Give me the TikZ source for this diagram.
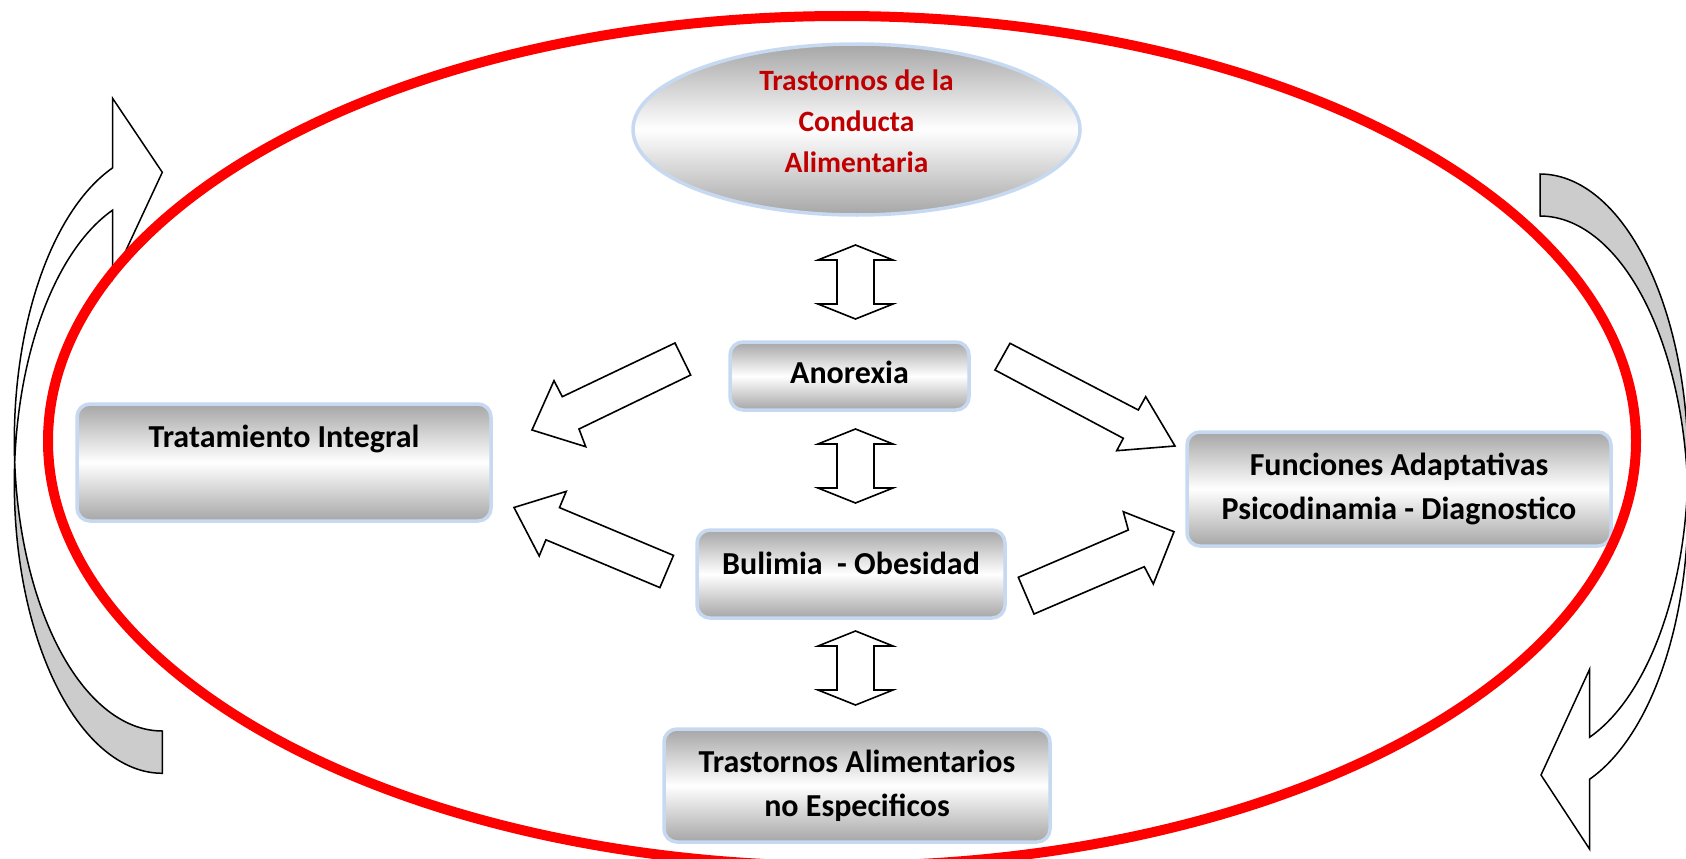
\documentclass[tikz,border=0pt]{standalone}
\usepackage{fontspec}
\setmainfont{Carlito}
\usetikzlibrary{shapes.geometric}
\definecolor{boxborder}{RGB}{198,217,241}
\definecolor{titlered}{RGB}{192,0,0}
\definecolor{shadegray}{RGB}{166,166,166}
\definecolor{backgray}{RGB}{204,204,204}
\begin{document}
\begin{tikzpicture}[x=1pt,y=-1pt,
  boxfill/.style={draw=boxborder, line width=3.5pt, top color=shadegray, bottom color=shadegray, middle color=white},
  box/.style={boxfill, rectangle, rounded corners=13pt, align=center, inner sep=0pt,
     font=\fontsize{32}{44}\selectfont\bfseries},
  titleell/.style={boxfill, ellipse, align=center, inner sep=0pt, text=titlered,
     font=\fontsize{29.5}{41}\selectfont\bfseries},
  blockarrow/.style={draw=black, fill=white, line width=1.6pt, line join=miter},
  curvefront/.style={draw=black, fill=white, line width=1.5pt},
  curveback/.style={draw=black, fill=backgray, line width=1.5pt},
  ring/.style={draw=red, line width=10pt}]
\useasboundingbox (0,0) rectangle (1686,859);
\clip (0,0) rectangle (1686,859);
\fill[white] (0,0) rectangle (1686,859);

% nodes
\node[titleell, minimum width=447pt, minimum height=171pt, text depth=16pt] (tca) at (856.5,129.5) {Trastornos de la\\Conducta\\Alimentaria};
\node[box, minimum width=239pt, minimum height=68pt, text height=21pt, text depth=6pt] (anorexia) at (849.5,376) {Anorexia};
\node[box, minimum width=414pt, minimum height=117pt, text height=21pt, text depth=51pt] (tratamiento) at (284,462.5) {Tratamiento Integral};
\node[box, minimum width=424pt, minimum height=114pt] (funciones) at (1399,489) {Funciones Adaptativas\\Psicodinamia - Diagnostico};
\node[box, minimum width=308pt, minimum height=88pt, text height=21pt, text depth=21pt] (bulimia) at (851,574) {Bulimia\ \ - Obesidad};
\node[box, minimum width=386pt, minimum height=113pt] (tane) at (857,785.5) {Trastornos Alimentarios\\no Especificos};

% vertical double arrows
\foreach \t in {245,429,631}{
  \draw[blockarrow] (855.5,\t) -- (893,\t+15) -- (874,\t+15) -- (874,\t+59) -- (893,\t+59)
     -- (855.5,\t+74) -- (818,\t+59) -- (837,\t+59) -- (837,\t+15) -- (818,\t+15) -- cycle;
}

% diagonal block arrows
\draw[blockarrow] (675,343) -- (562.3,396.7) -- (554,380.7) -- (532,430) -- (585.7,446.7) -- (579,429) -- (690.7,375) -- cycle;
\draw[blockarrow] (1010,343.3) -- (1138.3,410) -- (1145.7,396.7) -- (1175,446) -- (1116.7,450.7) -- (1123.3,438.3) -- (995,370) -- cycle;
\draw[blockarrow] (673.5,555.4) -- (559.5,507.6) -- (566.2,491.4) -- (514,507.5) -- (539.2,556) -- (545.9,539.8) -- (659.9,587.6) -- cycle;
\draw[blockarrow] (1018.3,577.3) -- (1128.3,530) -- (1123.3,511.7) -- (1174,531.7) -- (1153.3,584) -- (1144.3,566.7) -- (1034,614) -- cycle;

% left curved arrow (pointing right at top)
\draw[curveback] plot[domain=184.2:90, samples=60, variable=\a] ({162.3+148*cos(\a)},{483.3+290*sin(\a)})
   -- plot[domain=90:175.85, samples=60, variable=\a] ({162.3+148*cos(\a)},{441+290*sin(\a)}) -- cycle;
\draw[curvefront] plot[domain=175.85:250.4, samples=60, variable=\a] ({162.3+148*cos(\a)},{441+290*sin(\a)})
   -- (112.6,98.3) -- (162.3,172.3) -- (112.6,279)
   -- plot[domain=250.4:184.2, samples=60, variable=\a] ({162.3+148*cos(\a)},{483.3+290*sin(\a)}) -- cycle;

% right curved arrow (pointing left at bottom)
\draw[curveback] plot[domain=-90:4.15, samples=60, variable=\a] ({1540+148*cos(\a)},{464+290*sin(\a)})
   -- plot[domain=-4.15:-90, samples=60, variable=\a] ({1540+148*cos(\a)},{506+290*sin(\a)}) -- cycle;
\draw[curvefront] plot[domain=4.15:70.4, samples=60, variable=\a] ({1540+148*cos(\a)},{464+290*sin(\a)})
   -- (1589.7,669) -- (1541,775) -- (1589.7,849.3)
   -- plot[domain=70.4:-4.15, samples=60, variable=\a] ({1540+148*cos(\a)},{506+290*sin(\a)}) -- cycle;

% big red ring
\draw[ring] (842,441) ellipse [x radius=794pt, y radius=425pt];
\end{tikzpicture}
\end{document}
